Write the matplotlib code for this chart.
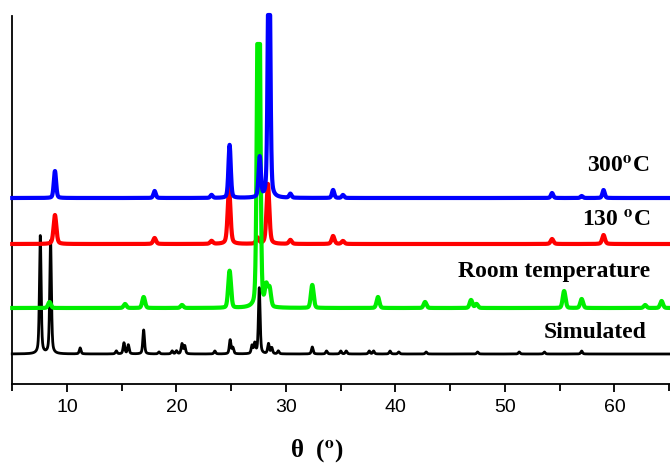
import numpy as np
import matplotlib
matplotlib.use('Agg')
import matplotlib.pyplot as plt

plt.rcParams['mathtext.fontset'] = 'stix'

# Peak lists (2-theta position, height above the trace baseline)
sim_pos = [7.56, 8.5, 11.2, 14.5, 15.2, 15.6, 17.0, 18.4, 19.6, 20.0, 20.5, 20.75, 23.5, 24.9, 25.15,
           26.9, 27.15, 27.56, 28.4, 28.7, 29.3, 32.4, 33.7, 35.0, 35.5, 37.6, 38.0, 39.5, 40.3,
           42.8, 47.5, 51.3, 53.6, 57.0]
sim_int = [118, 113, 6, 3, 11, 9, 24, 2, 3, 3, 10, 8, 3, 14, 6,
           8, 10, 66, 10, 6, 3, 7, 3, 3, 3, 3, 3, 3, 2,
           2, 2, 2, 2, 3]

rt_pos = [8.4, 15.3, 17.0, 20.5, 24.85, 27.5, 28.2, 28.5, 32.4, 38.4, 42.7, 46.9, 47.4, 55.4, 57.0, 62.8, 64.3]
rt_int = [6, 4, 11, 3, 37, 450, 20, 18, 23, 11, 6, 8, 4, 17, 9, 3, 7]

t130_pos = [8.9, 18.0, 23.2, 24.8, 27.4, 28.35, 30.4, 34.3, 35.2, 54.3, 59.0]
t130_int = [29, 6, 3, 56, 6, 60, 4, 8, 3, 5, 9]

t300_pos = [8.9, 18.0, 23.2, 24.85, 27.6, 28.45, 30.4, 34.3, 35.2, 54.3, 57.0, 59.0]
t300_int = [27, 7, 3, 53, 40, 300, 4, 8, 3, 5, 2, 8]

# vertical offsets of the stacked traces and saturation caps
offsets = {'Simulated': 30, 'Room temperature': 76, '130': 140, '300': 186}
caps = {'Simulated': None, 'Room temperature': 264, '130': None, '300': 183}


def pattern(x, pos, inten, fwhm, eta):
    # pseudo-Voigt peaks
    y = np.zeros_like(x)
    for p, h in zip(pos, inten):
        d = x - p
        lor = 1 / (1 + (2 * d / fwhm) ** 2)
        gau = np.exp(-4 * np.log(2) * d ** 2 / fwhm ** 2)
        y += h * (eta * lor + (1 - eta) * gau)
    return y


x = np.linspace(5, 65.1, 8000)

fig = plt.figure(figsize=(6.7, 4.66), dpi=100)
ax = fig.add_axes([12.25 / 670, 82 / 466, 657.75 / 670, 368 / 466])

series = [
    ('Simulated', sim_pos, sim_int, 0.18, 0.5, 'black', 2.0, 2),
    ('130', t130_pos, t130_int, 0.3, 0.4, '#ff0000', 3.0, 3),
    ('Room temperature', rt_pos, rt_int, 0.3, 0.2, '#00ee00', 3.0, 4),
    ('300', t300_pos, t300_int, 0.25, 0.3, '#0000ff', 3.0, 5),
]
for name, pos, inten, w, eta, col, lw, z in series:
    y = pattern(x, pos, inten, w, eta)
    if caps[name] is not None:
        y = np.minimum(y, caps[name])
    ax.plot(x, y + offsets[name], color=col, lw=lw, zorder=z, clip_on=False)

ax.set_xlim(5, 65.07)
ax.set_ylim(0, 368)
ax.set_yticks([])
ax.set_xticks([10, 20, 30, 40, 50, 60])
ax.set_xticks([5, 15, 25, 35, 45, 55, 65], minor=True)
ax.tick_params(axis='x', which='major', direction='out', length=6, width=1.3, labelsize=14, pad=5)
ax.tick_params(axis='x', which='minor', direction='out', length=5, width=1.3)
for lab in ax.get_xticklabels():
    lab.set_fontfamily('Liberation Sans')
for s in ['top', 'right']:
    ax.spines[s].set_visible(False)
for s in ['left', 'bottom']:
    ax.spines[s].set_linewidth(1.3)

lab_kw = dict(ha='right', va='center', fontsize=17, fontweight='bold', family='Liberation Serif')
ax.text(63.2, 217, r'300$^\mathbf{o}$C', **lab_kw)
ax.text(63.3, 163, r'130 $^\mathbf{o}$C', **lab_kw)
ax.text(63.3, 112, 'Room temperature', **lab_kw)
ax.text(62.9, 52, 'Simulated', **lab_kw)

fig.text(0.472, 15 / 466, r'θ  ($^\mathbf{o}$)', ha='center', va='center',
         fontsize=18, fontweight='bold', family='Liberation Serif')

fig.savefig('out.png', dpi=100)
